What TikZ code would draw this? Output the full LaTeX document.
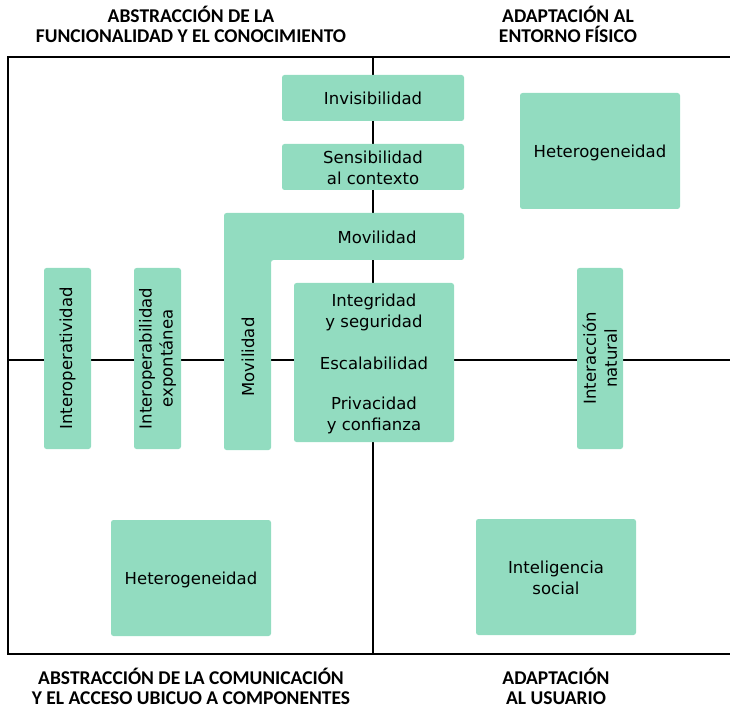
\documentclass[tikz,border=0pt]{standalone}
\usepackage{fontspec}
\setmainfont{DejaVu Sans}
\newfontfamily\headfont{Carlito}
\definecolor{boxgreen}{RGB}{146,220,192}
\begin{document}
\begin{tikzpicture}[x=1pt,y=-1pt,
  axis/.style={line width=1.5pt,black},
  card/.style={fill=boxgreen,draw=none,rounded corners=2.5pt,inner sep=0pt},
  label/.style={align=center,inner sep=1pt,font=\fontsize{16.5}{21}\selectfont},
  vlabel/.style={label,rotate=90},
  head/.style={align=center,inner sep=0pt,font=\headfont\bfseries\fontsize{19.5}{20}\selectfont}]
\useasboundingbox (0,0) rectangle (730,708);
% quadrant frame
\draw[axis] (730,57) -- (8,57) -- (8,654) -- (730,654);
\draw[axis] (373,57) -- (373,654);
\draw[axis] (8,360) -- (730,360);
% quadrant titles
\node[head] (tl) at (191,24) {ABSTRACCIÓN DE LA\\FUNCIONALIDAD Y EL CONOCIMIENTO};
\node[head] (tr) at (568,24) {ADAPTACIÓN AL\\ENTORNO FÍSICO};
\node[head] (bl) at (191,686) {ABSTRACCIÓN DE LA COMUNICACIÓN\\Y EL ACCESO UBICUO A COMPONENTES};
\node[head] (br) at (556,686) {ADAPTACIÓN\\AL USUARIO};
% cards
\node[card,minimum width=182pt,minimum height=46pt] (inv) at (373,98) {};
\node[label] (invt) at (inv) {Invisibilidad};
\node[card,minimum width=182pt,minimum height=46pt] (sen) at (373,167) {};
\node[label] (sent) at ([yshift=-1pt]sen) {Sensibilidad\\al contexto};
\node[card,minimum width=160pt,minimum height=116pt] (het1) at (600,151) {};
\node[label] (het1t) at ([yshift=-1.5pt]het1) {Heterogeneidad};
% L-shaped mobility card
\fill[boxgreen,rounded corners=2.5pt] (224,213) -- (464,213) -- (464,260) -- (271,260)
  -- (271,450) -- (224,450) -- cycle;
\node[label] (movh) at (377,237) {Movilidad};
\node[vlabel] (movv) at (248,357) {Movilidad};
\node[card,minimum width=47pt,minimum height=181pt] (iop) at (67.5,358.5) {};
\node[vlabel] (iopt) at (iop) {Interoperatividad};
\node[card,minimum width=47pt,minimum height=181pt] (iopx) at (157.5,358.5) {};
\node[vlabel] (iopxt) at (iopx) {Interoperabilidad\\expontánea};
\node[card,minimum width=160pt,minimum height=159pt] (mid) at (374,362.5) {};
\node[label] (integ) at (374,312) {Integridad\\y seguridad};
\node[label] (esc) at (374,363) {Escalabilidad};
\node[label] (priv) at (374,415) {Privacidad\\y confianza};
\node[card,minimum width=46pt,minimum height=181pt] (inat) at (600,358.5) {};
\node[vlabel] (inatt) at (inat) {Interacción\\natural};
\node[card,minimum width=160pt,minimum height=116pt] (het2) at (191,578) {};
\node[label] (het2t) at ([yshift=-1.5pt]het2) {Heterogeneidad};
\node[card,minimum width=160pt,minimum height=116pt] (isoc) at (556,577) {};
\node[label] (isoct) at ([yshift=-1pt]isoc) {Inteligencia\\social};
\end{tikzpicture}
\end{document}
